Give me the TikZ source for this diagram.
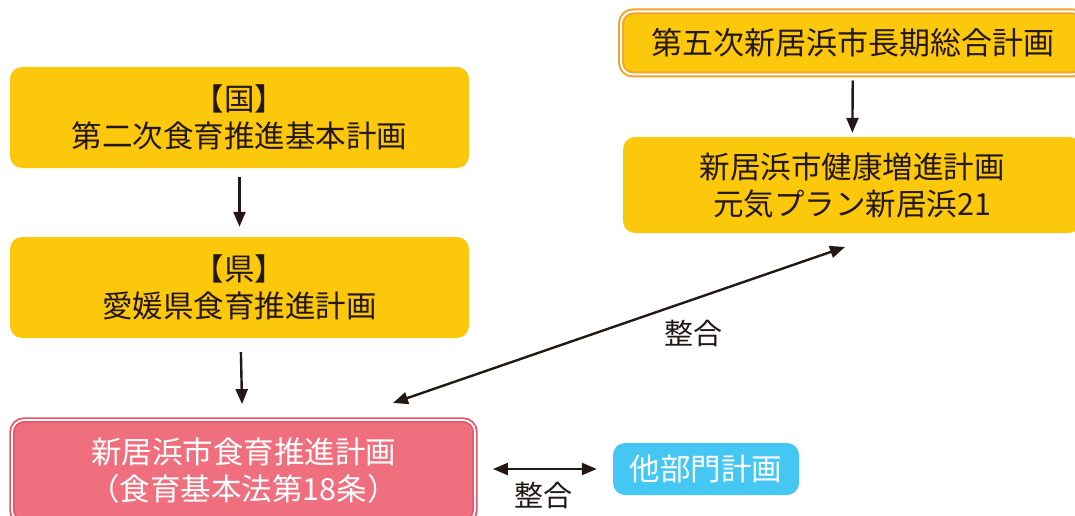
\documentclass[tikz,border=0pt]{standalone}
\usepackage{fontspec}
\setmainfont{Noto Sans CJK JP}
\usetikzlibrary{arrows.meta}
\definecolor{plyellow}{RGB}{252,200,12}
\definecolor{plorange}{RGB}{244,162,40}
\definecolor{plpink}{RGB}{239,111,127}
\definecolor{plpinkdark}{RGB}{232,84,108}
\definecolor{plblue}{RGB}{68,199,243}
\definecolor{plink}{RGB}{35,24,21}
\begin{document}
\begin{tikzpicture}[x=1pt, y=-1pt,
  planbox/.style={rounded corners=12pt, fill=plyellow, text=plink, align=center,
    inner sep=0pt, font=\fontsize{30.5}{37}\selectfont},
  flow/.style={draw=plink, line width=2.4pt, -{Triangle[length=15pt, width=12pt]}},
  both/.style={draw=plink, line width=2.4pt, {Triangle[length=15pt, width=12pt]}-{Triangle[length=15pt, width=12pt]}},
  lbl/.style={text=plink, font=\fontsize{29}{30}\selectfont}]
\useasboundingbox (0,0) rectangle (1075,516);
\clip (0,0) rectangle (1075,516);
\node[planbox, minimum width=459pt, minimum height=101pt] (kuni) at (239.5,117.5){【国】\\第二次食育推進基本計画};
\node[planbox, minimum width=459pt, minimum height=101pt] (ken) at (239.5,287.5){【県】\\愛媛県食育推進計画};
\node[planbox, minimum width=464pt, minimum height=63pt, draw=plorange, line width=2pt,
  double=white, double distance=2pt, font=\fontsize{31}{37}\selectfont] (sogo) at (853,43){第五次新居浜市長期総合計画};
\node[planbox, minimum width=458pt, minimum height=96pt] (kenko) at (852,185){新居浜市健康増進計画\\元気プラン新居浜21};
\node[planbox, minimum width=463pt, minimum height=102pt, fill=plpink, draw=plpinkdark,
  line width=1.8pt, double=white, double distance=1.8pt, text=white] (shokuiku) at (243.5,471){新居浜市食育推進計画\\（食育基本法第18条）};
\node[planbox, minimum width=186pt, minimum height=52pt, fill=plblue, text=white] (tabumon) at (706,469){他部門計画};
\coordinate (renkei1) at (393,403);
\coordinate (renkei2) at (845,247);
\draw[flow, shorten <=9pt, shorten >=10pt](kuni) -- (ken);
\draw[flow, shorten <=14pt, shorten >=15pt](ken) -- (shokuiku);
\draw[flow, shorten <=5pt, shorten >=4pt](sogo) -- (kenko);
\draw[both](renkei1) -- (renkei2);
\node[lbl] (seigo1) at (693,333){整合};
\draw[both, shorten <=17pt, shorten >=16pt](shokuiku.east |- tabumon.west) -- (tabumon.west);
\node[lbl] (seigo2) at (543,495){整合};
\end{tikzpicture}
\end{document}
